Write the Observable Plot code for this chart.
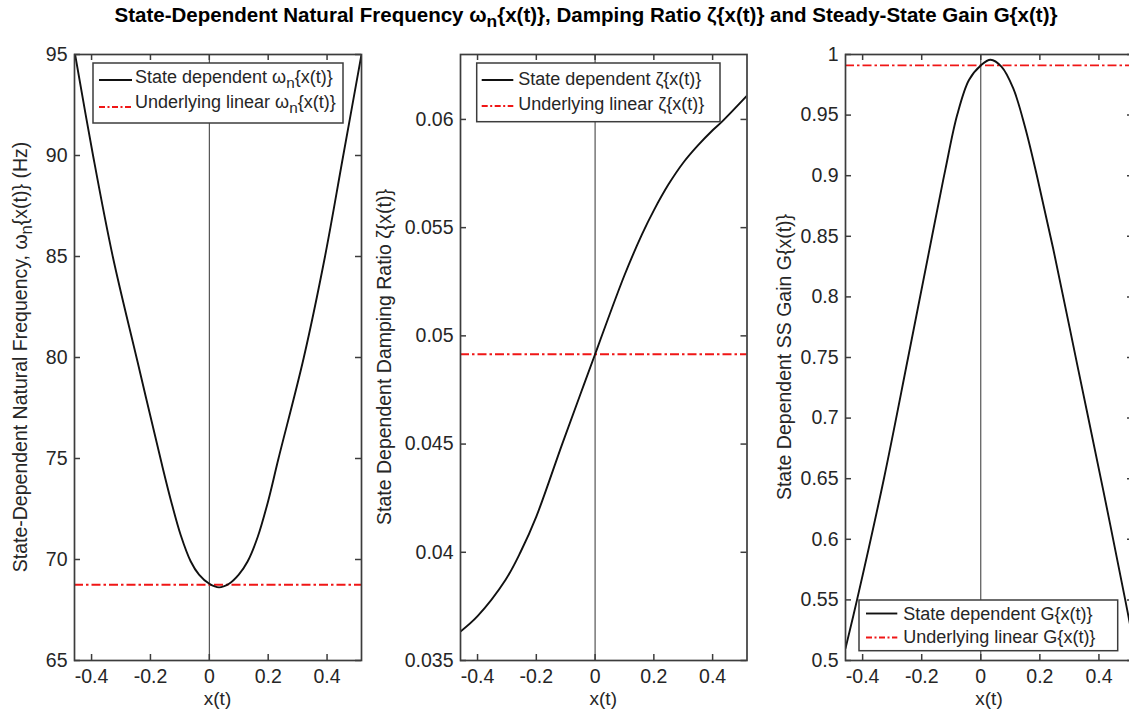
<!DOCTYPE html>
<html><head><meta charset="utf-8">
<script src="https://cdn.jsdelivr.net/npm/d3@7"></script>
<script src="https://cdn.jsdelivr.net/npm/@observablehq/plot@0.6"></script>
<style>
html,body{margin:0;padding:0;background:#fff;overflow:hidden}
#wrap{position:relative;width:1129px;height:713px;overflow:hidden;background:#fff}
#title{position:absolute;left:586px;top:5px;line-height:20px;z-index:2;transform-origin:0 0;
  font-family:"Liberation Sans",Arial,sans-serif;font-weight:bold;font-size:19.5px;color:#000;white-space:nowrap}
#title .sub{position:relative;top:5px;font-size:85%}
.panel{position:absolute;top:0;width:380px;height:713px}
</style></head><body>
<div id="wrap">
  <div id="title">State-Dependent Natural Frequency ω<span class="sub">n</span>{x(t)}, Damping Ratio ζ{x(t)} and Steady-State Gain G{x(t)}</div>
</div>
<script>
// ---------- data ----------
const xTicks = [-0.4, -0.2, 0, 0.2, 0.4];
const xDomain = [-0.458, 0.517];

const wnTicks = [65, 70, 75, 80, 85, 90, 95];
const wnDomain = [65, 95];
const wnX = [-0.456, -0.395, -0.328, -0.244, -0.161, -0.13, -0.097, -0.063, -0.035, 0, 0.033, 0.067, 0.1, 0.13, 0.164, 0.2, 0.235, 0.321, 0.393, 0.455, 0.517];
const wnY = [95, 90, 85, 79.8, 74.7, 72.9, 71.2, 69.9, 69.25, 68.8, 68.62, 68.8, 69.25, 69.9, 71.1, 72.9, 75, 80, 85, 90, 95];
const wnLinear = 68.75;

const zetaTicks = [0.035, 0.04, 0.045, 0.05, 0.055, 0.06];
const zetaDomain = [0.035, 0.063];
const zetaX = [-0.458, -0.4, -0.305, -0.254, -0.2, -0.112, -0.05, 0, 0.018, 0.1, 0.16, 0.2, 0.25, 0.3, 0.35, 0.4, 0.432, 0.517];
const zetaY = [0.03634, 0.03705, 0.03872, 0.0400, 0.04165, 0.045, 0.0473, 0.04915, 0.04982, 0.0528, 0.0547, 0.0558, 0.0570, 0.0580, 0.0588, 0.0595, 0.0599, 0.0611];
const zetaLinear = 0.04915;

const gainTicks = [0.5, 0.55, 0.6, 0.65, 0.7, 0.75, 0.8, 0.85, 0.9, 0.95, 1];
const gainDomain = [0.5, 1];
const gainX = [-0.458, -0.419, -0.328, -0.246, -0.165, -0.12, -0.08, -0.04, 0, 0.033, 0.07, 0.11, 0.15, 0.19, 0.245, 0.33, 0.415, 0.489, 0.517];
const gainY = [0.51, 0.55, 0.65, 0.75, 0.85, 0.905, 0.95, 0.979, 0.991, 0.9957, 0.99, 0.972, 0.94, 0.90, 0.84, 0.74, 0.64, 0.55, 0.515];
const gainLinear = 0.991;

const seriesNames = ["State dependent", "Underlying linear"];

// ---------- drawing ----------
const FONT = "'Liberation Sans', Arial, Helvetica, sans-serif";
const AXIS = "#3c3c3c";
const TEXT = "#262626";
const RED = "#f01616";
const H = 713, MT = 54, MB = 53;
const fmt = d => String(d);

function richText(sel, parts) {
  parts.forEach(p => {
    if (p.sub) {
      sel.append("tspan").attr("dy", 5).attr("font-size", "85%").text(p.t);
    } else {
      const ts = sel.append("tspan").text(p.t);
      if (p.after) ts.attr("dy", -5);
    }
  });
}

function panel(cfg) {
  const {left, width, marginLeft, marginRight, yDomain, yTicks, xs, ys, linear, ylabel, ylabelX, legend} = cfg;
  const data = xs.map((x, i) => ({x, y: ys[i]}));
  const innerW = width - marginLeft - marginRight;
  const innerH = H - MT - MB;
  const tick = 6;
  const chart = Plot.plot({
    width, height: H, marginLeft, marginRight, marginTop: MT, marginBottom: MB,
    style: {fontFamily: FONT, fontSize: "19.5px", color: TEXT, background: "transparent", overflow: "visible"},
    x: {domain: xDomain, label: null},
    y: {domain: yDomain, label: null},
    marks: [
      Plot.ruleX([0], {stroke: "#333", strokeWidth: 1}),
      Plot.ruleY([linear], {stroke: RED, strokeWidth: 1.9, strokeDasharray: "9,3,2.5,3"}),
      Plot.line(data, {x: "x", y: "y", stroke: "#111", strokeWidth: 1.9, curve: "catmull-rom", clip: true}),
      Plot.ruleX(xTicks, {stroke: AXIS, strokeWidth: 1.5, insetTop: innerH - tick}),
      Plot.ruleX(xTicks, {stroke: AXIS, strokeWidth: 1.5, insetBottom: innerH - tick}),
      Plot.ruleY(yTicks, {stroke: AXIS, strokeWidth: 1.5, insetRight: innerW - tick}),
      Plot.ruleY(yTicks, {stroke: AXIS, strokeWidth: 1.5, insetLeft: innerW - tick}),
      Plot.frame({stroke: AXIS, strokeWidth: 1.7}),
      Plot.axisX(xTicks, {tickSize: 0, tickPadding: 9, tickFormat: fmt, label: null, fill: TEXT}),
      Plot.axisY(yTicks, {tickSize: 0, tickPadding: 7, tickFormat: fmt, label: null, fill: TEXT})
    ]
  });
  const div = document.createElement("div");
  div.className = "panel";
  div.style.left = left + "px";
  div.appendChild(chart);
  document.getElementById("wrap").appendChild(div);

  const svg = d3.select(chart);
  // y label
  const yl = svg.append("text")
    .attr("transform", `translate(${ylabelX},${MT + innerH / 2}) rotate(-90)`)
    .attr("text-anchor", "middle").attr("font-family", FONT).attr("font-size", 19.5).attr("fill", TEXT);
  richText(yl, ylabel);
  // x label
  svg.append("text").attr("x", marginLeft + innerW / 2).attr("y", 705)
    .attr("text-anchor", "middle").attr("font-family", FONT).attr("font-size", 19).attr("fill", TEXT).text("x(t)");
  // legend
  const L = legend;
  const g = svg.append("g");
  g.append("rect").attr("x", L.x).attr("y", L.y).attr("width", L.w).attr("height", L.h)
    .attr("fill", "#fff").attr("stroke", AXIS).attr("stroke-width", 1.5);
  L.rows.forEach((r, i) => {
    g.append("line").attr("x1", L.lx1).attr("x2", L.lx2).attr("y1", r.ly).attr("y2", r.ly)
      .attr("stroke", i === 0 ? "#111" : RED).attr("stroke-width", i === 0 ? 1.9 : 1.8)
      .attr("stroke-dasharray", i === 0 ? null : "6,2.5,2,2.5");
    const t = g.append("text").attr("x", L.tx).attr("y", r.by).attr("font-family", FONT)
      .attr("text-anchor", "start").attr("font-size", 18).attr("fill", TEXT);
    richText(t, r.parts);
  });
}

panel({
  left: 0, width: 380, marginLeft: 74, marginRight: 19,
  yDomain: wnDomain, yTicks: wnTicks, xs: wnX, ys: wnY, linear: wnLinear,
  ylabelX: 27,
  ylabel: [{t: "State-Dependent Natural Frequency, ω"}, {t: "n", sub: true}, {t: "{x(t)} (Hz)", after: true}],
  legend: {x: 93, y: 63, w: 250, h: 60, lx1: 99, lx2: 132, tx: 135,
    rows: [
      {ly: 80, by: 83, parts: [{t: seriesNames[0] + " ω"}, {t: "n", sub: true}, {t: "{x(t)}", after: true}]},
      {ly: 107, by: 108, parts: [{t: seriesNames[1] + " ω"}, {t: "n", sub: true}, {t: "{x(t)}", after: true}]}
    ]}
});

panel({
  left: 380, width: 380, marginLeft: 80, marginRight: 13.5,
  yDomain: zetaDomain, yTicks: zetaTicks, xs: zetaX, ys: zetaY, linear: zetaLinear,
  ylabelX: 11,
  ylabel: [{t: "State Dependent Damping Ratio ζ{x(t)}"}],
  legend: {x: 96.7, y: 63, w: 243.3, h: 58.7, lx1: 101.7, lx2: 133.3, tx: 138.3,
    rows: [
      {ly: 80, by: 84.5, parts: [{t: seriesNames[0] + " ζ{x(t)}"}]},
      {ly: 106, by: 109.5, parts: [{t: seriesNames[1] + " ζ{x(t)}"}]}
    ]}
});

panel({
  left: 760, width: 380, marginLeft: 85, marginRight: 7,
  yDomain: gainDomain, yTicks: gainTicks, xs: gainX, ys: gainY, linear: gainLinear,
  ylabelX: 31,
  ylabel: [{t: "State Dependent SS Gain G{x(t)}"}],
  legend: {x: 99, y: 600, w: 258.7, h: 50.7, lx1: 106, lx2: 137.3, tx: 143.3,
    rows: [
      {ly: 613.5, by: 619.5, parts: [{t: seriesNames[0] + " G{x(t)}"}]},
      {ly: 637.5, by: 643, parts: [{t: seriesNames[1] + " G{x(t)}"}]}
    ]}
});

// fit the (condensed) title to the reference's width, centred over the panels
const title = document.getElementById("title");
const tw = title.getBoundingClientRect().width;
const s = 943 / tw;
title.style.transform = `scaleX(${s}) translateX(-50%)`;
</script>
</body></html>
